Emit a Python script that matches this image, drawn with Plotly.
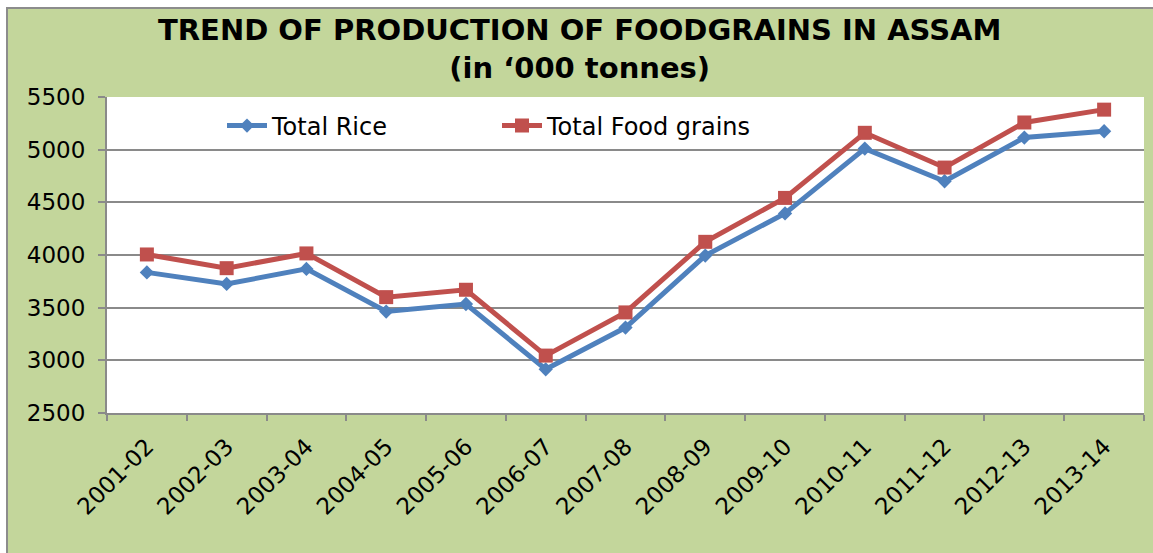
import plotly.graph_objects as go

years = ["2001-02", "2002-03", "2003-04", "2004-05", "2005-06", "2006-07", "2007-08",
         "2008-09", "2009-10", "2010-11", "2011-12", "2012-13", "2013-14"]
total_rice = [3835, 3725, 3868, 3463, 3535, 2915, 3311, 3995, 4395, 5010, 4700, 5115, 5175]
total_foodgrains = [4005, 3875, 4015, 3600, 3670, 3045, 3455, 4125, 4542, 5160, 4830, 5258, 5380]
y_ticks = [2500, 3000, 3500, 4000, 4500, 5000, 5500]

BLUE = "#4F81BD"
RED = "#C0504D"
GREEN = "#C3D69B"
GRID = "#8A8A8A"
BORDER = "#8C8C8C"
FONT = "DejaVu Sans"

W, H = 1153, 553
L, R, T, B = 107, 9, 97, 140
pw, ph = W - L - R, H - T - B

def px_x(p):
    return (p - L) / pw

def px_y(p):
    return (H - B - p) / ph

fig = go.Figure()
fig.add_trace(go.Scatter(
    x=years, y=total_rice, name="Total Rice", mode="lines+markers",
    line=dict(color=BLUE, width=5),
    marker=dict(symbol="diamond", size=11, color=BLUE),
))
fig.add_trace(go.Scatter(
    x=years, y=total_foodgrains, name="Total Food grains", mode="lines+markers",
    line=dict(color=RED, width=5),
    marker=dict(symbol="square", size=14, color=RED),
))

# white strips outside the chart border (top and left), plus the border lines
fig.add_shape(type="rect", xref="paper", yref="paper",
              x0=px_x(-10), x1=px_x(W + 10), y0=px_y(7), y1=px_y(-10),
              fillcolor="white", line=dict(width=0), layer="below")
fig.add_shape(type="rect", xref="paper", yref="paper",
              x0=px_x(-10), x1=px_x(6), y0=px_y(H + 10), y1=px_y(-10),
              fillcolor="white", line=dict(width=0), layer="below")
fig.add_shape(type="line", xref="paper", yref="paper",
              x0=px_x(6), x1=px_x(W + 10), y0=px_y(8), y1=px_y(8),
              line=dict(color=BORDER, width=2), layer="below")
fig.add_shape(type="line", xref="paper", yref="paper",
              x0=px_x(7), x1=px_x(7), y0=px_y(7), y1=px_y(H + 10),
              line=dict(color=BORDER, width=2), layer="below")

fig.add_annotation(
    text="<b>TREND OF PRODUCTION OF FOODGRAINS IN ASSAM</b><br><b>(in \u2018000 tonnes)</b>",
    xref="paper", yref="paper", x=px_x(579), y=px_y(49),
    xanchor="center", yanchor="middle", showarrow=False,
    font=dict(family=FONT, size=29, color="black"),
)

fig.update_layout(
    width=W, height=H,
    margin=dict(l=L, r=R, t=T, b=B, autoexpand=False),
    paper_bgcolor=GREEN,
    plot_bgcolor="white",
    font=dict(family=FONT, size=22, color="black"),
    showlegend=True,
    legend=dict(
        orientation="h", x=px_x(222), y=px_y(126), xanchor="left", yanchor="middle",
        font=dict(family=FONT, size=24, color="black"),
        bgcolor="rgba(0,0,0,0)", entrywidth=220, entrywidthmode="pixels",
        itemwidth=40,
    ),
    xaxis=dict(
        type="category", showgrid=False, showline=True, linecolor=GRID, linewidth=2,
        ticks="outside", ticklen=6, tickwidth=2, tickcolor=GRID, tickson="boundaries",
        tickangle=-45, tickfont=dict(family=FONT, size=23, color="black"),
        range=[-0.5, len(years) - 0.5], ticklabelstandoff=9,
    ),
    yaxis=dict(
        range=[2500, 5500], tickvals=y_ticks, showgrid=True, gridcolor=GRID, gridwidth=2,
        showline=True, linecolor=GRID, linewidth=2, zeroline=False,
        ticks="outside", ticklen=7, tickwidth=2, tickcolor=GRID,
        tickfont=dict(family=FONT, size=23, color="black"), ticklabelstandoff=8,
    ),
)

fig.write_html("out.html", config={"displayModeBar": False},
               post_script="document.body.style.margin='0';")
